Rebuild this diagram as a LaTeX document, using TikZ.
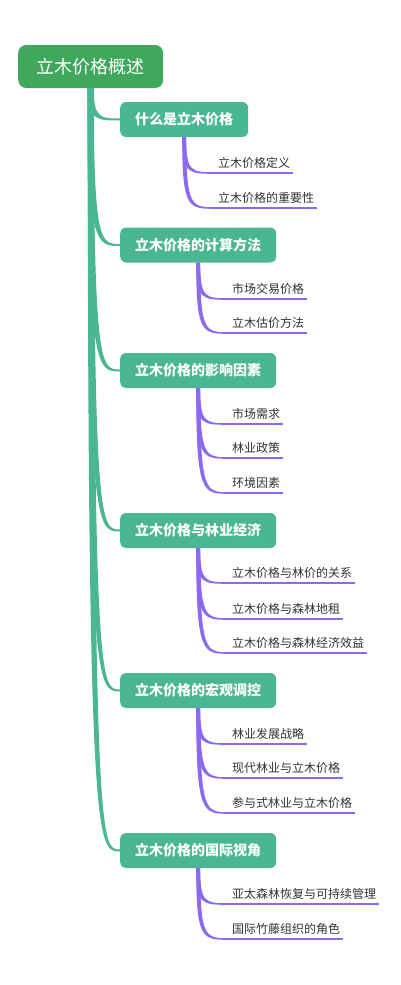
\documentclass[tikz,border=0pt]{standalone}
\usepackage{fontspec}
\setmainfont{Noto Sans CJK SC}
\usetikzlibrary{calc}
\definecolor{rootgreen}{RGB}{64,168,92}
\definecolor{topicteal}{RGB}{74,183,146}
\definecolor{twigpurple}{RGB}{141,104,240}
\definecolor{leafgray}{RGB}{51,51,51}

\begin{document}
\begin{tikzpicture}[x=1pt, y=-1pt,
  rootbox/.style={fill=rootgreen, text=white, rounded corners=8pt, minimum height=43pt,
    inner xsep=18.5pt, anchor=west, font=\fontsize{18}{20}\selectfont},
  topicbox/.style={fill=topicteal, text=white, rounded corners=6pt, minimum height=35pt,
    inner xsep=15pt, anchor=west, font=\bfseries\fontsize{14}{16}\selectfont},
  leaf/.style={text=leafgray, anchor=south west, inner xsep=3pt, inner ysep=3pt,
    text height=9.5pt, text depth=2.5pt, font=\fontsize{12}{14}\selectfont}]

\useasboundingbox (0,0) rectangle (400,985);

% main topic and the six sub topics
\node[rootbox] (root) at (18,66.5) {立木价格概述};
\node[topicbox] (t1) at (120,119.5) {什么是立木价格};
\node[topicbox] (t2) at (120,245) {立木价格的计算方法};
\node[topicbox] (t3) at (120,370.5) {立木价格的影响因素};
\node[topicbox] (t4) at (120,530.5) {立木价格与林业经济};
\node[topicbox] (t5) at (120,690.5) {立木价格的宏观调控};
\node[topicbox] (t6) at (120,850.5) {立木价格的国际视角};

% leaves
\node[leaf] (l11) at (215,173) {立木价格定义};
\node[leaf] (l12) at (215,208) {立木价格的重要性};
\node[leaf] (l21) at (229,299) {市场交易价格};
\node[leaf] (l22) at (229,333) {立木估价方法};
\node[leaf] (l31) at (229,424) {市场需求};
\node[leaf] (l32) at (229,458) {林业政策};
\node[leaf] (l33) at (229,493) {环境因素};
\node[leaf] (l41) at (229,583) {立木价格与林价的关系};
\node[leaf] (l42) at (229,619) {立木价格与森林地租};
\node[leaf] (l43) at (229,653) {立木价格与森林经济效益};
\node[leaf] (l51) at (229,744) {林业发展战略};
\node[leaf] (l52) at (229,778) {现代林业与立木价格};
\node[leaf] (l53) at (229,813) {参与式林业与立木价格};
\node[leaf] (l61) at (229,904) {亚太森林恢复与可持续管理};
\node[leaf] (l62) at (229,939) {国际竹藤组织的角色};

% tapered branches from the main topic
\foreach \tp in {t1,t2,t3,t4,t5,t6}
\fill[topicteal] let \p1=(root.south), \p2=(\tp.west) in
  (\x1-3pt,\y1) .. controls (\x1-3pt,\y2-1pt) and (\x1+6pt,\y2-1pt) .. (\x2,\y2-1pt)
  -- (\x2,\y2+1pt) .. controls (\x1+10pt,\y2+1pt) and (\x1+3pt,\y2+1pt) .. (\x1+3pt,\y1) -- cycle;

% purple twigs and underlines
\foreach \tp/\lf in {t1/l11,t1/l12,t2/l21,t2/l22,t3/l31,t3/l32,t3/l33,
  t4/l41,t4/l42,t4/l43,t5/l51,t5/l52,t5/l53,t6/l61,t6/l62} {
\fill[twigpurple] let \p1=(\tp.south), \p2=(\lf.south west) in
  (\x1-2pt,\y1) .. controls (\x1-2pt,\y2-0.8pt) and (\x1+4pt,\y2-0.8pt) .. (\x2,\y2-0.8pt)
  -- (\x2,\y2+0.8pt) .. controls (\x1+7pt,\y2+0.8pt) and (\x1+2pt,\y2+0.8pt) .. (\x1+2pt,\y1) -- cycle;
\draw[twigpurple, line width=1.6pt] (\lf.south west) -- (\lf.south east);
}

\end{tikzpicture}
\end{document}
